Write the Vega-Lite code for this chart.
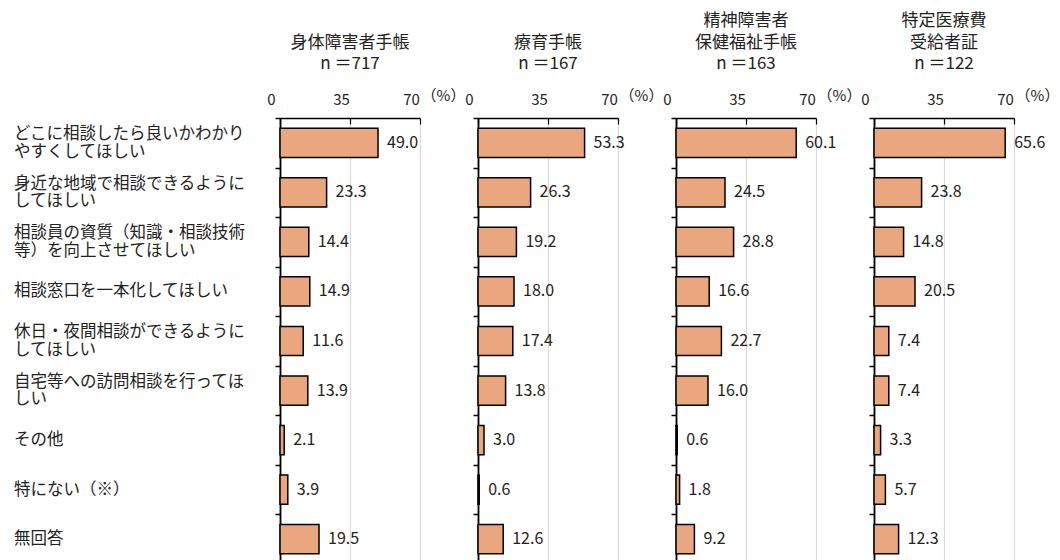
{
  "$schema": "https://vega.github.io/schema/vega-lite/v6.json",
  "padding": {"left": 14, "top": 12, "right": 5, "bottom": 0},
  "background": "white",
  "spacing": 58,
  "bounds": "flush",
  "config": {
    "font": "Noto Sans CJK JP",
    "view": {"stroke": null},
    "axisX": {
      "domainColor": "#000000",
      "domainWidth": 1.5,
      "tickColor": "#000000",
      "tickWidth": 1.2,
      "tickSize": -6,
      "grid": true,
      "gridColor": "#D9D9D9",
      "gridWidth": 1.2,
      "labelFontSize": 15,
      "labelColor": "#222222",
      "labelOffset": -9,
      "labelPadding": 17,
      "labelFlush": false,
      "titleFontSize": 15,
      "titleFontWeight": "normal",
      "titleColor": "#222222",
      "titleX": 163,
      "titleY": -23,
      "titleAlign": "center",
      "titleBaseline": "middle",
      "titleAngle": 0
    },
    "axisY": {
      "title": null,
      "labels": false,
      "domainColor": "#000000",
      "domainWidth": 1.8,
      "tickColor": "#000000",
      "tickWidth": 1.5,
      "tickSize": 5,
      "tickBand": "extent",
      "grid": false
    },
    "title": {"fontSize": 17, "fontWeight": "normal", "color": "#222222", "anchor": "middle", "lineHeight": 21.5, "baseline": "bottom", "offset": 15}
  },
  "datasets": {
    "d": [
      {"group": "A", "item": "どこに相談したら良いかわかり\nやすくしてほしい", "value": 49.0},
      {"group": "A", "item": "身近な地域で相談できるように\nしてほしい", "value": 23.3},
      {"group": "A", "item": "相談員の資質（知識・相談技術\n等）を向上させてほしい", "value": 14.4},
      {"group": "A", "item": "相談窓口を一本化してほしい", "value": 14.9},
      {"group": "A", "item": "休日・夜間相談ができるように\nしてほしい", "value": 11.6},
      {"group": "A", "item": "自宅等への訪問相談を行ってほ\nしい", "value": 13.9},
      {"group": "A", "item": "その他", "value": 2.1},
      {"group": "A", "item": "特にない（※）", "value": 3.9},
      {"group": "A", "item": "無回答", "value": 19.5},
      {"group": "B", "item": "どこに相談したら良いかわかり\nやすくしてほしい", "value": 53.3},
      {"group": "B", "item": "身近な地域で相談できるように\nしてほしい", "value": 26.3},
      {"group": "B", "item": "相談員の資質（知識・相談技術\n等）を向上させてほしい", "value": 19.2},
      {"group": "B", "item": "相談窓口を一本化してほしい", "value": 18.0},
      {"group": "B", "item": "休日・夜間相談ができるように\nしてほしい", "value": 17.4},
      {"group": "B", "item": "自宅等への訪問相談を行ってほ\nしい", "value": 13.8},
      {"group": "B", "item": "その他", "value": 3.0},
      {"group": "B", "item": "特にない（※）", "value": 0.6},
      {"group": "B", "item": "無回答", "value": 12.6},
      {"group": "C", "item": "どこに相談したら良いかわかり\nやすくしてほしい", "value": 60.1},
      {"group": "C", "item": "身近な地域で相談できるように\nしてほしい", "value": 24.5},
      {"group": "C", "item": "相談員の資質（知識・相談技術\n等）を向上させてほしい", "value": 28.8},
      {"group": "C", "item": "相談窓口を一本化してほしい", "value": 16.6},
      {"group": "C", "item": "休日・夜間相談ができるように\nしてほしい", "value": 22.7},
      {"group": "C", "item": "自宅等への訪問相談を行ってほ\nしい", "value": 16.0},
      {"group": "C", "item": "その他", "value": 0.6},
      {"group": "C", "item": "特にない（※）", "value": 1.8},
      {"group": "C", "item": "無回答", "value": 9.2},
      {"group": "D", "item": "どこに相談したら良いかわかり\nやすくしてほしい", "value": 65.6},
      {"group": "D", "item": "身近な地域で相談できるように\nしてほしい", "value": 23.8},
      {"group": "D", "item": "相談員の資質（知識・相談技術\n等）を向上させてほしい", "value": 14.8},
      {"group": "D", "item": "相談窓口を一本化してほしい", "value": 20.5},
      {"group": "D", "item": "休日・夜間相談ができるように\nしてほしい", "value": 7.4},
      {"group": "D", "item": "自宅等への訪問相談を行ってほ\nしい", "value": 7.4},
      {"group": "D", "item": "その他", "value": 3.3},
      {"group": "D", "item": "特にない（※）", "value": 5.7},
      {"group": "D", "item": "無回答", "value": 12.3}
    ]
  },
  "data": {"name": "d"},
  "hconcat": [
    {
      "width": 140, "height": 446,
      "title": {"text": ["身体障害者手帳", "n ＝717"]},
      "transform": [{"filter": "datum.group == 'A'"}],
      "encoding": {
        "y": {"field": "item", "type": "nominal", "sort": null, "scale": {"paddingInner": 0, "paddingOuter": 0}},
        "x": {"field": "value", "type": "quantitative", "scale": {"domain": [0, 70]}, "axis": {"orient": "top", "values": [0, 35, 70], "title": "（%）"}}
      },
      "layer": [
        {"mark": {"type": "bar", "height": {"band": 0.59}, "fill": "#EAA67E", "stroke": "#000000", "strokeWidth": 1.5}},
        {"mark": {"type": "text", "align": "left", "baseline": "middle", "dx": 9, "fontSize": 16, "color": "#222222"}, "encoding": {"text": {"field": "value", "type": "quantitative", "format": ".1f"}}},
        {"transform": [{"filter": "indexof(datum.item, '\\n') < 0"}],
         "mark": {"type": "text", "align": "left", "baseline": "middle", "dx": -266, "fontSize": 16.5, "color": "#222222"},
         "encoding": {"x": {"datum": 0}, "text": {"field": "item"}}},
        {"transform": [{"filter": "indexof(datum.item, '\\n') >= 0"}],
         "mark": {"type": "text", "align": "left", "baseline": "middle", "dx": -266, "dy": -8.75, "lineBreak": "\n", "lineHeight": 17.5, "fontSize": 16.5, "color": "#222222"},
         "encoding": {"x": {"datum": 0}, "text": {"field": "item"}}}
      ]
    },
    {
      "width": 140, "height": 446,
      "title": {"text": ["療育手帳", "n ＝167"]},
      "transform": [{"filter": "datum.group == 'B'"}],
      "encoding": {
        "y": {"field": "item", "type": "nominal", "sort": null, "scale": {"paddingInner": 0, "paddingOuter": 0}},
        "x": {"field": "value", "type": "quantitative", "scale": {"domain": [0, 70]}, "axis": {"orient": "top", "values": [0, 35, 70], "title": "（%）"}}
      },
      "layer": [
        {"mark": {"type": "bar", "height": {"band": 0.59}, "fill": "#EAA67E", "stroke": "#000000", "strokeWidth": 1.5}},
        {"mark": {"type": "text", "align": "left", "baseline": "middle", "dx": 9, "fontSize": 16, "color": "#222222"}, "encoding": {"text": {"field": "value", "type": "quantitative", "format": ".1f"}}}
      ]
    },
    {
      "width": 140, "height": 446,
      "title": {"text": ["精神障害者", "保健福祉手帳", "n ＝163"]},
      "transform": [{"filter": "datum.group == 'C'"}],
      "encoding": {
        "y": {"field": "item", "type": "nominal", "sort": null, "scale": {"paddingInner": 0, "paddingOuter": 0}},
        "x": {"field": "value", "type": "quantitative", "scale": {"domain": [0, 70]}, "axis": {"orient": "top", "values": [0, 35, 70], "title": "（%）"}}
      },
      "layer": [
        {"mark": {"type": "bar", "height": {"band": 0.59}, "fill": "#EAA67E", "stroke": "#000000", "strokeWidth": 1.5}},
        {"mark": {"type": "text", "align": "left", "baseline": "middle", "dx": 9, "fontSize": 16, "color": "#222222"}, "encoding": {"text": {"field": "value", "type": "quantitative", "format": ".1f"}}}
      ]
    },
    {
      "width": 140, "height": 446,
      "title": {"text": ["特定医療費", "受給者証", "n ＝122"]},
      "transform": [{"filter": "datum.group == 'D'"}],
      "encoding": {
        "y": {"field": "item", "type": "nominal", "sort": null, "scale": {"paddingInner": 0, "paddingOuter": 0}},
        "x": {"field": "value", "type": "quantitative", "scale": {"domain": [0, 70]}, "axis": {"orient": "top", "values": [0, 35, 70], "title": "（%）"}}
      },
      "layer": [
        {"mark": {"type": "bar", "height": {"band": 0.59}, "fill": "#EAA67E", "stroke": "#000000", "strokeWidth": 1.5}},
        {"mark": {"type": "text", "align": "left", "baseline": "middle", "dx": 9, "fontSize": 16, "color": "#222222"}, "encoding": {"text": {"field": "value", "type": "quantitative", "format": ".1f"}}}
      ]
    }
  ]
}
